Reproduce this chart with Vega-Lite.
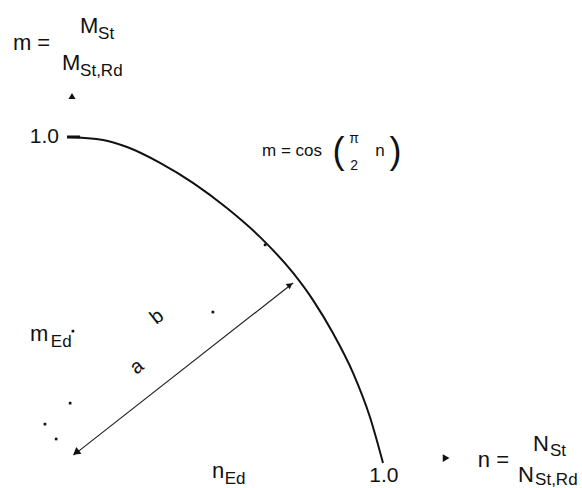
{
  "$schema": "https://vega.github.io/schema/vega-lite/v6.json",
  "width": 582,
  "height": 488,
  "autosize": "none",
  "padding": 0,
  "background": "white",
  "config": {"view": {"stroke": null}, "text": {"font": "Liberation Sans, Arial, sans-serif", "color": "#111111"}},
  "datasets": {
    "curve": [
      {"x": -0.016, "y": 1.0},
      {"x": 0.1, "y": 0.991},
      {"x": 0.177, "y": 0.969},
      {"x": 0.283, "y": 0.92},
      {"x": 0.389, "y": 0.858},
      {"x": 0.498, "y": 0.78},
      {"x": 0.605, "y": 0.69},
      {"x": 0.711, "y": 0.579},
      {"x": 0.775, "y": 0.495},
      {"x": 0.839, "y": 0.393},
      {"x": 0.904, "y": 0.269},
      {"x": 0.958, "y": 0.133},
      {"x": 1.0, "y": -0.009}
    ],
    "tick": [{"x": -0.016, "x2": 0.026, "y": 1.0, "y2": 1.0}],
    "arrow": [{"x": 0.005, "y": 0.015, "x2": 0.711, "y2": 0.548}],
    "headOrigin": [{"x": 0.013, "y": 0.023}],
    "headCurve": [{"x": 0.701, "y": 0.542}],
    "headY": [{"x": 0.0, "y": 1.127}],
    "headX": [{"x": 1.203, "y": 0.006}],
    "dots": [
      {"x": -0.006, "y": 0.176},
      {"x": -0.087, "y": 0.111},
      {"x": -0.051, "y": 0.065},
      {"x": 0.453, "y": 0.458},
      {"x": 0.621, "y": 0.666},
      {"x": 0.003, "y": 0.399}
    ],
    "labels": [
      {"kind": "main", "t": "m =", "x": -0.19, "y": 1.291},
      {"kind": "main", "t": "M", "x": 0.026, "y": 1.344},
      {"kind": "sub", "t": "St", "x": 0.084, "y": 1.318},
      {"kind": "main", "t": "M", "x": -0.032, "y": 1.229},
      {"kind": "sub", "t": "St,Rd", "x": 0.026, "y": 1.203},
      {"kind": "right", "t": "1.0", "x": -0.042, "y": 1.0},
      {"kind": "small", "t": "m  =  cos", "x": 0.611, "y": 0.957},
      {"kind": "paren", "t": "(", "x": 0.857, "y": 0.954},
      {"kind": "frac", "t": "π", "x": 0.907, "y": 0.994},
      {"kind": "frac", "t": "2", "x": 0.907, "y": 0.91},
      {"kind": "small", "t": "n", "x": 0.975, "y": 0.957},
      {"kind": "paren", "t": ")", "x": 1.04, "y": 0.954},
      {"kind": "main", "t": "m", "x": -0.135, "y": 0.39},
      {"kind": "sub", "t": "Ed", "x": -0.068, "y": 0.366},
      {"kind": "rot", "t": "a", "x": 0.209, "y": 0.288},
      {"kind": "rot", "t": "b", "x": 0.273, "y": 0.443},
      {"kind": "main", "t": "n", "x": 0.45, "y": -0.034},
      {"kind": "sub", "t": "Ed", "x": 0.491, "y": -0.058},
      {"kind": "center", "t": "1.0", "x": 1.003, "y": -0.05},
      {"kind": "main", "t": "n =", "x": 1.305, "y": 0.0},
      {"kind": "main", "t": "N", "x": 1.482, "y": 0.05},
      {"kind": "sub", "t": "St", "x": 1.537, "y": 0.029},
      {"kind": "main", "t": "N", "x": 1.434, "y": -0.045},
      {"kind": "sub", "t": "St,Rd", "x": 1.489, "y": -0.062}
    ]
  },
  "encoding": {
    "x": {"field": "x", "type": "quantitative", "scale": {"domain": [-0.2315, 1.6399], "nice": false, "zero": false}, "axis": null},
    "y": {"field": "y", "type": "quantitative", "scale": {"domain": [-0.0867, 1.4241], "nice": false, "zero": false}, "axis": null}
  },
  "layer": [
    {"data": {"name": "curve"}, "mark": {"type": "line", "color": "#111111", "strokeWidth": 2, "interpolate": "monotone"}, "encoding": {}},
    {"data": {"name": "tick"}, "mark": {"type": "rule", "color": "#111111", "strokeWidth": 3}, "encoding": {"x2": {"field": "x2"}, "y2": {"field": "y2"}}},
    {"data": {"name": "arrow"}, "mark": {"type": "rule", "color": "#222222", "strokeWidth": 1.2}, "encoding": {"x2": {"field": "x2"}, "y2": {"field": "y2"}}},
    {"data": {"name": "headOrigin"}, "mark": {"type": "point", "shape": "triangle-up", "angle": 232, "size": 70, "filled": true, "color": "#111111", "opacity": 1}},
    {"data": {"name": "headCurve"}, "mark": {"type": "point", "shape": "triangle-up", "angle": 52, "size": 45, "filled": true, "color": "#111111", "opacity": 1}},
    {"data": {"name": "headY"}, "mark": {"type": "point", "shape": "triangle-up", "size": 50, "filled": true, "color": "#111111", "opacity": 1}},
    {"data": {"name": "headX"}, "mark": {"type": "point", "shape": "triangle-right", "size": 60, "filled": true, "color": "#111111", "opacity": 1}},
    {"data": {"name": "dots"}, "mark": {"type": "point", "shape": "square", "size": 7, "filled": true, "color": "#111111", "opacity": 1}},
    {"data": {"name": "labels"}, "transform": [{"filter": "datum.kind === 'main'"}], "mark": {"type": "text", "align": "left", "baseline": "middle", "fontSize": 22}, "encoding": {"text": {"field": "t"}}},
    {"data": {"name": "labels"}, "transform": [{"filter": "datum.kind === 'sub'"}], "mark": {"type": "text", "align": "left", "baseline": "middle", "fontSize": 17}, "encoding": {"text": {"field": "t"}}},
    {"data": {"name": "labels"}, "transform": [{"filter": "datum.kind === 'right'"}], "mark": {"type": "text", "align": "right", "baseline": "middle", "fontSize": 21}, "encoding": {"text": {"field": "t"}}},
    {"data": {"name": "labels"}, "transform": [{"filter": "datum.kind === 'center'"}], "mark": {"type": "text", "align": "center", "baseline": "middle", "fontSize": 21}, "encoding": {"text": {"field": "t"}}},
    {"data": {"name": "labels"}, "transform": [{"filter": "datum.kind === 'small'"}], "mark": {"type": "text", "align": "left", "baseline": "middle", "fontSize": 17}, "encoding": {"text": {"field": "t"}}},
    {"data": {"name": "labels"}, "transform": [{"filter": "datum.kind === 'frac'"}], "mark": {"type": "text", "align": "center", "baseline": "middle", "fontSize": 14}, "encoding": {"text": {"field": "t"}}},
    {"data": {"name": "labels"}, "transform": [{"filter": "datum.kind === 'paren'"}], "mark": {"type": "text", "align": "center", "baseline": "middle", "fontSize": 36, "fontWeight": 100}, "encoding": {"text": {"field": "t"}}},
    {"data": {"name": "labels"}, "transform": [{"filter": "datum.kind === 'rot'"}], "mark": {"type": "text", "align": "center", "baseline": "middle", "fontSize": 20, "angle": 322}, "encoding": {"text": {"field": "t"}}}
  ]
}
